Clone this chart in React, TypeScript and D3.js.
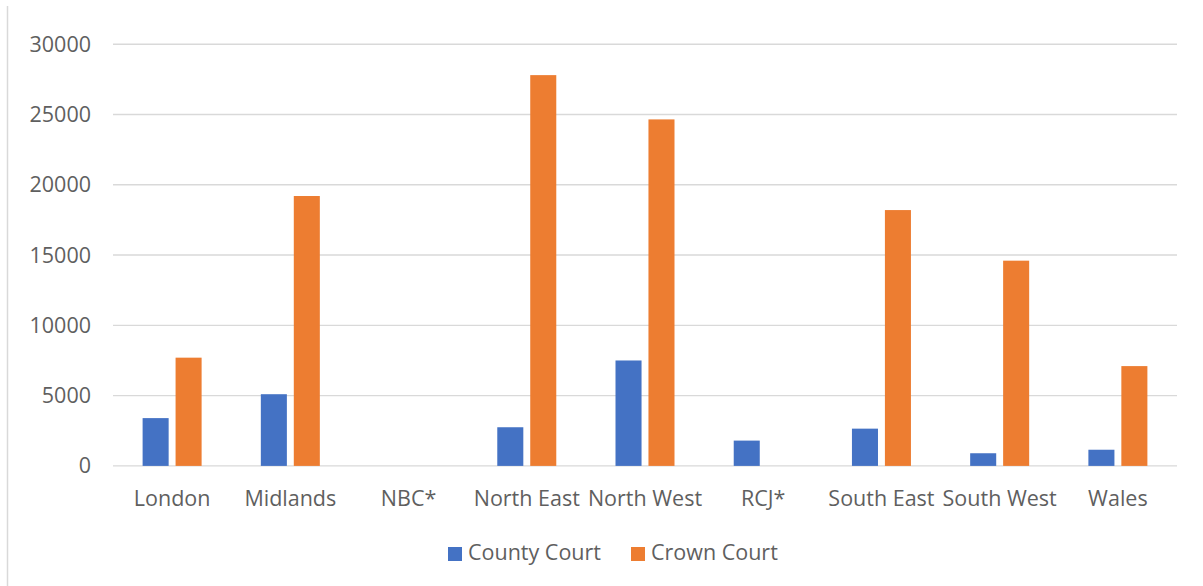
import React from "react";
import * as d3 from "d3";

const categories = ["London", "Midlands", "NBC*", "North East", "North West", "RCJ*", "South East", "South West", "Wales"];
const seriesNames = ["County Court", "Crown Court"];
const countyCourt = [3400, 5100, 0, 2750, 7500, 1800, 2650, 900, 1150];
const crownCourt = [7700, 19200, 0, 27800, 24650, 0, 18200, 14600, 7100];
const yTicks = [0, 5000, 10000, 15000, 20000, 25000, 30000];
const colors = ["#4472C4", "#ED7D31"];

const W = 1203;
const H = 586;
const FONT = "'Open Sans', 'Noto Sans', sans-serif";
const FS = 21.5;

export default function App() {
  const x0 = d3.scaleBand().domain(categories).range([113, 1177]).padding(0);
  const x1 = d3.scaleBand().domain(seriesNames).range([-29.5, 29.5]).paddingInner(0.21);
  const y = d3.scaleLinear().domain([0, 30000]).range([465.9, 44.2]);

  const values = [countyCourt, crownCourt];

  return (
    <svg width={W} height={H} style={{ position: "absolute", left: 0, top: 0, background: "#fff" }}>
      {/* chart frame, left edge only visible */}
      <line x1={7.5} x2={7.5} y1={6} y2={H} stroke="#d9d9d9" strokeWidth={1.5} />

      {/* gridlines + y labels */}
      {yTicks.map((t) => (
        <g key={t}>
          <line x1={113} x2={1177} y1={y(t)} y2={y(t)} stroke="#d9d9d9" strokeWidth={1.4} />
          <text x={91} y={y(t)} dy="0.35em" textAnchor="end" fontFamily={FONT} fontSize={FS} fill="#5f5f5f">
            {t}
          </text>
        </g>
      ))}

      {/* bars */}
      {seriesNames.map((s, si) =>
        categories.map((c, ci) => {
          const v = values[si][ci];
          if (!v) return null;
          const cx = (x0(c) as number) + x0.bandwidth() / 2;
          return (
            <rect
              key={s + c}
              x={cx + (x1(s) as number)}
              y={y(v)}
              width={x1.bandwidth()}
              height={y(0) - y(v)}
              fill={colors[si]}
            />
          );
        })
      )}

      {/* category labels */}
      {categories.map((c) => (
        <text
          key={c}
          x={(x0(c) as number) + x0.bandwidth() / 2}
          y={506}
          textAnchor="middle"
          fontFamily={FONT}
          fontSize={FS}
          fill="#5f5f5f"
        >
          {c}
        </text>
      ))}

      {/* legend */}
      {seriesNames.map((s, i) => {
        const lx = [448, 631][i];
        return (
          <g key={s}>
            <rect x={lx} y={547} width={14} height={14} fill={colors[i]} />
            <text x={lx + 20} y={560} fontFamily={FONT} fontSize={FS} fill="#5f5f5f">
              {s}
            </text>
          </g>
        );
      })}
    </svg>
  );
}
